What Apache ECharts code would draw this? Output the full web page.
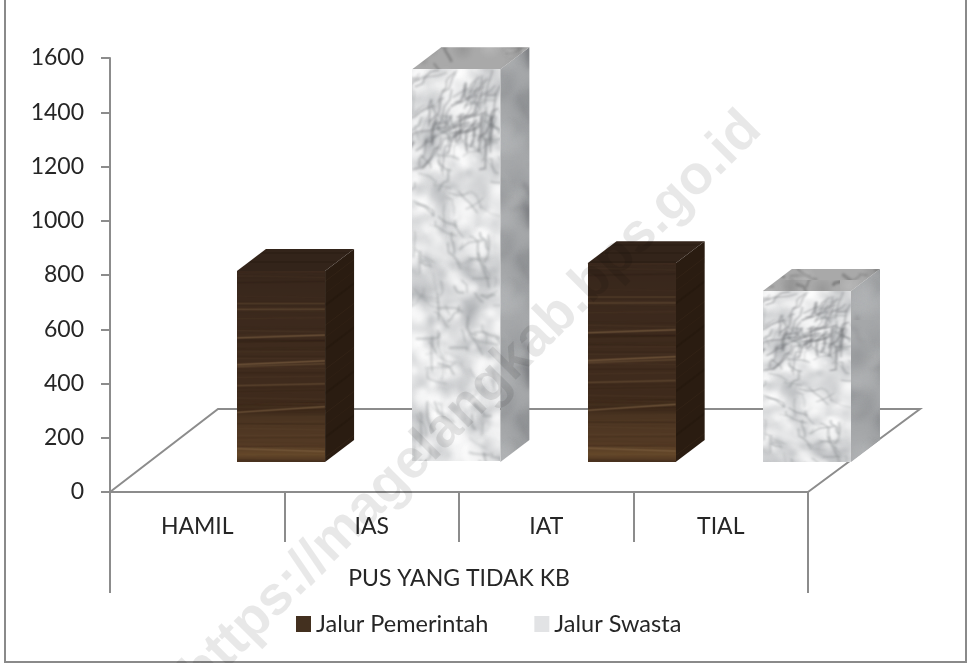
<!DOCTYPE html>
<html><head><meta charset="utf-8">
<style>html,body{margin:0;padding:0;background:#fff}#c{width:968px;height:663px}</style>
<script src="https://cdn.jsdelivr.net/npm/echarts@6/dist/echarts.min.js"></script>
</head><body><div id="c"></div>
<script>
const categories = ['HAMIL','IAS','IAT','TIAL'];
const groupLabel = ['PUS YANG TIDAK KB'];
const pemerintah = [704,null,733,null];
const swasta = [null,1448,null,630];
const seriesNames = ['Jalur Pemerintah','Jalur Swasta'];

// Surface textures (decoration only, not data)
let seed = 7;
function rnd(){ seed = (seed*16807)%2147483647; return seed/2147483647; }
function mk(w,h,fn){ const c=document.createElement('canvas'); c.width=w;c.height=h; fn(c.getContext('2d'),w,h); return c; }

const woodFront = mk(176,400,(g,w,h)=>{
  const b=g.createLinearGradient(0,0,0,h);
  b.addColorStop(0,'#38271c');b.addColorStop(.5,'#402c1e');b.addColorStop(.74,'#3e2a1b');
  b.addColorStop(.76,'#4a3421');b.addColorStop(.92,'#553b25');b.addColorStop(.96,'#654829');b.addColorStop(1,'#4a3220');
  g.fillStyle=b;g.fillRect(0,0,w,h);
  g.filter='blur(1px)';
  for(let i=0;i<70;i++){const y=rnd()*h;g.strokeStyle='rgba('+(rnd()<.5?'20,12,6':'110,85,60')+','+(.06+rnd()*.16)+')';g.lineWidth=.8+rnd()*2;g.beginPath();g.moveTo(0,y);g.lineTo(w,y-4+rnd()*8);g.stroke();}
  const streaks=[[.17,.3,0],[.2,.35,0],[.35,.55,-6],[.49,.6,-8],[.5,.35,-6],[.6,.35,-4],[.74,.55,-12],[.93,.5,6]];
  streaks.forEach(s=>{g.strokeStyle='rgba(135,105,72,'+s[1]+')';g.lineWidth=3.5;g.beginPath();g.moveTo(0,s[0]*h);g.lineTo(w,s[0]*h+s[2]);g.stroke();});
  g.filter='none';
});
const woodSide = mk(58,44,(g,w,h)=>{
  g.fillStyle='#2a1c11';g.fillRect(0,0,w,h);
  [[0,'rgba(70,50,32,.3)',1],[20,'rgba(30,19,10,.3)',2],[32,'rgba(70,50,32,.18)',1]].forEach(s=>{
    g.strokeStyle=s[1];g.lineWidth=s[2];
    [-44,0,44].forEach(o=>{g.beginPath();g.moveTo(0,h+o-s[0]);g.lineTo(w,o-s[0]);g.stroke();});
  });
});
const woodTop = mk(60,30,(g,w,h)=>{
  g.fillStyle='#33241a';g.fillRect(0,0,w,h);
  g.strokeStyle='rgba(20,10,5,.25)';g.lineWidth=1;
  [5,13,22].forEach(y=>{g.beginPath();g.moveTo(0,y);g.lineTo(w,y);g.stroke();});
});
function blotches(g,w,h,n,dark,light,r0,r1){
  for(let i=0;i<n;i++){
    const x=rnd()*w,y=rnd()*h,r=r0+rnd()*(r1-r0);
    const grad=g.createRadialGradient(x,y,0,x,y,r);
    const col=rnd()<.55?dark:light;
    grad.addColorStop(0,col);grad.addColorStop(1,col.replace(/[\d.]+\)$/,'0)'));
    g.fillStyle=grad;g.fillRect(x-r,y-r,2*r,2*r);
  }
}
function veins(g,w,h,n,color,len,ang,spread){
  g.strokeStyle=color;
  for(let i=0;i<n;i++){
    let x=rnd()*w,y=rnd()*h;let a=ang+(rnd()-.5)*spread;
    g.lineWidth=1+rnd()*3;g.beginPath();g.moveTo(x,y);
    for(let k=0;k<4;k++){a+=(rnd()-.5)*.9;x+=Math.cos(a)*len*rnd();y+=Math.sin(a)*len*rnd();g.lineTo(x,y);}
    g.stroke();
  }
}
const marbleFront = mk(176,786,(g,w,h)=>{
  g.fillStyle='#e6e7e8';g.fillRect(0,0,w,h);
  g.filter='blur(2.5px)';
  blotches(g,w,h,420,'rgba(160,163,167,.3)','rgba(255,255,255,.72)',10,34);
  veins(g,w,h,130,'rgba(120,123,127,.42)',22,.9,1.8);
  veins(g,w*.5,h*.2,24,'rgba(105,108,112,.5)',28,2.2,.5);
  g.translate(w*.5,0);
  veins(g,w*.5,h*.2,40,'rgba(105,108,112,.55)',28,2.2,.5);
  g.setTransform(1,0,0,1,0,0);
  g.filter='none';
});
const marbleSide = mk(120,160,(g,w,h)=>{
  g.fillStyle='#a5a7a9';g.fillRect(0,0,w,h);
  g.filter='blur(2px)';
  blotches(g,w,h,60,'rgba(115,118,122,.32)','rgba(190,192,194,.28)',8,22);
  veins(g,w,h,14,'rgba(85,87,91,.35)',12,1.2,1.2);
  g.filter='none';
});
const marbleTop = mk(120,40,(g,w,h)=>{
  g.fillStyle='#a9a9a9';g.fillRect(0,0,w,h);
  g.filter='blur(1px)';
  veins(g,w,h,16,'rgba(95,95,95,.45)',12,.1,.8);
  blotches(g,w,h,12,'rgba(120,120,120,.35)','rgba(205,205,205,.4)',6,16);
  g.filter='none';
});

const BAR_DX=29, BAR_DY=-22, BASE_DY=-30;
function barRenderer(front,side,top,cropFor){
  return function(params,api){
    const i=api.value(0), v=api.value(1);
    const p=api.coord([i,v]), b=api.coord([i,0]);
    const w=api.size([1,0])[0]*0.505;
    const cx=281+(p[0]-197.25)*1.0046;
    const x0=cx-w/2,x1=cx+w/2,yt=p[1]+BASE_DY,yb=b[1]+BASE_DY;
    const crop=cropFor(yb-yt);
    return {type:'group',children:[
      {type:'polygon',shape:{points:[[x1,yb],[x1+BAR_DX,yb+BAR_DY],[x1+BAR_DX,yt+BAR_DY],[x1,yt]]},style:{fill:{image:side,repeat:'repeat'}}},
      {type:'polygon',shape:{points:[[x0,yt],[x1,yt],[x1+BAR_DX,yt+BAR_DY],[x0+BAR_DX,yt+BAR_DY]]},style:{fill:{image:top,repeat:'repeat'}}},
      {type:'image',style:{image:front,x:x0,y:yt,width:w,height:yb-yt,sx:0,sy:0,sWidth:front.width,sHeight:crop}}
    ]};
  };
}
function toPoints(arr){ return arr.map((v,i)=>v==null?null:[i,v]).filter(Boolean); }

const chart=echarts.init(document.getElementById('c'),null,{renderer:'canvas'});
const FONT='Lato', TXT='#262626', AX='#8c8c8c';
chart.setOption({
  animation:false,
  backgroundColor:'#fff',
  grid:{left:110,right:160,top:58,bottom:171},
  legend:{
    data:seriesNames.map(n=>({name:n,icon:'rect'})),
    left:291,top:607,itemWidth:15,itemHeight:16,itemGap:46,
    selectedMode:false,
    textStyle:{fontFamily:FONT,fontSize:23.5,color:TXT}
  },
  xAxis:[
    {type:'category',data:categories,position:'bottom',
     axisLine:{lineStyle:{color:AX,width:2}},
     axisTick:{show:true,interval:0,length:50,alignWithLabel:false,lineStyle:{color:AX,width:2}},
     axisLabel:{margin:23,fontFamily:FONT,fontSize:23,color:TXT}},
    {type:'category',data:groupLabel,position:'bottom',
     axisLine:{lineStyle:{color:AX,width:2}},
     axisTick:{show:true,interval:0,length:101,alignWithLabel:false,lineStyle:{color:AX,width:2}},
     axisLabel:{margin:75,fontFamily:FONT,fontSize:23,color:TXT}}
  ],
  yAxis:{type:'value',min:0,max:1600,interval:200,
    axisLine:{show:true,lineStyle:{color:AX,width:2}},
    axisTick:{show:true,length:9,lineStyle:{color:AX,width:2}},
    splitLine:{show:false},
    axisLabel:{margin:26,fontFamily:FONT,fontSize:23,color:TXT,padding:[4,0,0,0],formatter:v=>String(v)}},
  series:[
    {type:'custom',name:'floor',z:1,silent:true,clip:false,data:[[0,0]],
     renderItem:function(params){
       const c=params.coordSys, l=c.x, r=c.x+c.width, yb=c.y+c.height;
       return {type:'polyline',shape:{points:[[l,yb],[l+108,yb-83],[r+112,yb-83],[r,yb]]},style:{fill:null,stroke:AX,lineWidth:2}};
     }},
    {type:'custom',name:seriesNames[0],z:3,clip:false,encode:{x:0,y:1},
     itemStyle:{color:'#43301f'},
     data:toPoints(pemerintah),
     renderItem:barRenderer(woodFront,woodSide,woodTop,()=>woodFront.height)},
    {type:'custom',name:seriesNames[1],z:3,clip:false,encode:{x:0,y:1},
     itemStyle:{color:'#e2e3e5'},
     data:toPoints(swasta),
     renderItem:barRenderer(marbleFront,marbleSide,marbleTop,h=>Math.round(h*2.0*0.8+160))}
  ],
  graphic:[
    {type:'rect',silent:true,z:50,shape:{x:5,y:-3,width:961,height:665},style:{fill:null,stroke:'#8a8a8a',lineWidth:2}},
    {type:'text',silent:true,z:60,x:472,y:402,rotation:Math.PI/4,
     style:{text:'https://magelangkab.bps.go.id',font:'bold 55px "Liberation Sans"',fill:'rgba(0,0,0,0.09)',textAlign:'center',textVerticalAlign:'middle'}}
  ]
});
</script></body></html>
